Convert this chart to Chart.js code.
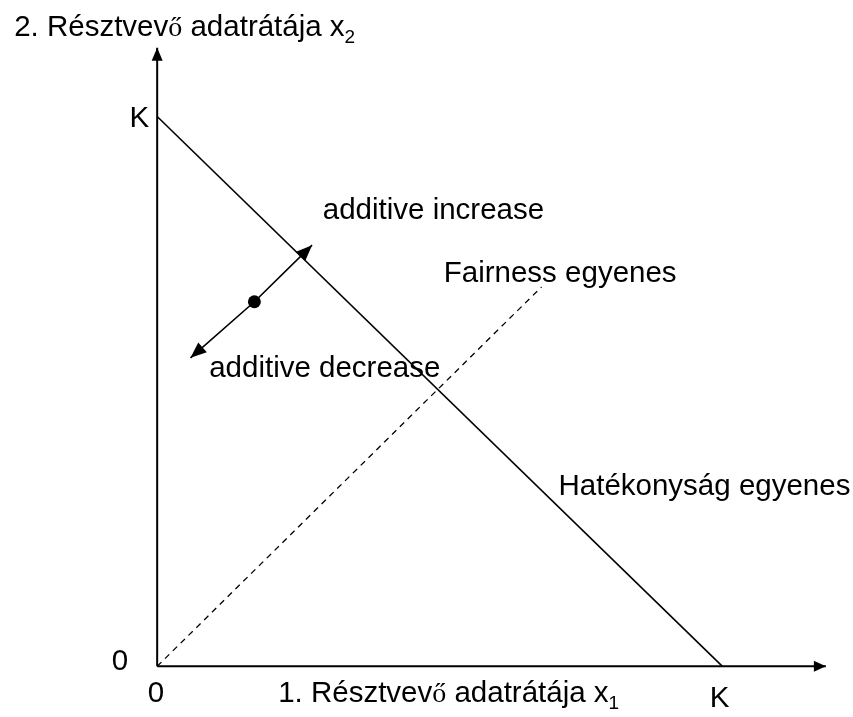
<!DOCTYPE html>
<html>
<head>
<meta charset="utf-8">
<script src="https://cdn.jsdelivr.net/npm/chart.js@4"></script>
<style>
html,body{margin:0;padding:0;background:#fff;}
canvas{display:block;}
</style>
</head>
<body>
<canvas id="c" width="853" height="717"></canvas>
<script>
// ---- data (K = 10 units) ----
const K = 10;
const xAxisLine = [{x:0,y:0},{x:11.83,y:0}];
const yAxisLine = [{x:0,y:0},{x:0,y:11.25}];
const efficiencyLine = [{x:0,y:K},{x:K,y:0}];
const fairnessLine = [{x:0,y:0},{x:6.8,y:6.9}];
const adjustPath = [{x:0.59,y:5.61},{x:1.72,y:6.63},{x:2.74,y:7.66}];
const currentPoint = [{x:1.72,y:6.63}];

// text labels (segments: [text, style]) ; style: n normal, s serif glyph, b subscript
const labelTexts = [
  [["2. Résztvev","n"],["ő","s"],[" adatrátája x","n"],["2","b"]],
  [["K","n"]],
  [["0","n"]],
  [["0","n"]],
  [["K","n"]],
  [["1. Résztvev","n"],["ő","s"],[" adatrátája x","n"],["1","b"]],
  [["additive increase","n"]],
  [["Fairness egyenes","n"]],
  [["additive decrease","n"]],
  [["Hatékonyság egyenes","n"]]
];
const labelAnchors = [
  {x:-2.53,y:11.66,align:"left"},
  {x:-0.14,y:10.0,align:"right"},
  {x:-0.66,y:0.12,align:"center"},
  {x:-0.02,y:-0.46,align:"center"},
  {x:9.95,y:-0.55,align:"center"},
  {x:2.14,y:-0.46,align:"left"},
  {x:2.93,y:8.33,align:"left"},
  {x:5.07,y:7.18,align:"left"},
  {x:0.92,y:5.45,align:"left"},
  {x:7.1,y:3.3,align:"left"}
];

const FS = 29.5;
const SANS = '"Liberation Sans", Arial, sans-serif';
const SERIF = '"Liberation Serif", "Times New Roman", serif';
function fontFor(st){
  if(st==="s") return `${Math.round(FS*0.95)}px ${SERIF}`;
  if(st==="b") return `${Math.round(FS*0.66)}px ${SANS}`;
  return `${FS}px ${SANS}`;
}

const arrowPlugin = {
  id:'arrows',
  afterDatasetsDraw(chart){
    const ctx = chart.ctx;
    chart.data.datasets.forEach((ds,i)=>{
      if(!ds.arrows) return;
      const meta = chart.getDatasetMeta(i);
      const pts = meta.data;
      const n = pts.length;
      const heads = [];
      if(ds.arrows.end) heads.push([pts[n-2],pts[n-1]]);
      if(ds.arrows.start) heads.push([pts[1],pts[0]]);
      heads.forEach(([a,b])=>{
        const ang = Math.atan2(b.y-a.y,b.x-a.x);
        const L = ds.arrows.len, W = ds.arrows.half;
        ctx.save();
        ctx.translate(b.x,b.y);
        ctx.rotate(ang);
        ctx.beginPath();
        ctx.moveTo(0,0);
        ctx.lineTo(-L,-W);
        ctx.lineTo(-L,W);
        ctx.closePath();
        ctx.fillStyle='#000';
        ctx.fill();
        ctx.restore();
      });
    });
  }
};

const textPlugin = {
  id:'texts',
  afterDraw(chart){
    const ctx = chart.ctx;
    const xs = chart.scales.x, ys = chart.scales.y;
    labelTexts.forEach((segs,i)=>{
      const a = labelAnchors[i];
      const px = xs.getPixelForValue(a.x), py = ys.getPixelForValue(a.y);
      ctx.save();
      ctx.fillStyle='#000';
      ctx.textBaseline='alphabetic';
      let total=0;
      segs.forEach(([t,st])=>{ctx.font=fontFor(st); total+=ctx.measureText(t).width;});
      let x = a.align==="left"?px:(a.align==="right"?px-total:px-total/2);
      const base = py + FS*0.36;
      segs.forEach(([t,st])=>{
        ctx.font=fontFor(st);
        const y = st==="b"? base+FS*0.24 : base;
        ctx.fillText(t,x,y);
        x += ctx.measureText(t).width;
      });
      ctx.restore();
    });
  }
};

const xMinPx=153, xKPx=727, y0Px=672, yKPx=112;
const ux=(xKPx-xMinPx)/K, uy=(y0Px-yKPx)/K;
const xMin=-xMinPx/ux, xMax=xMin+853/ux;
const yMax=y0Px/uy, yMin=yMax-717/uy;

new Chart(document.getElementById('c'),{
  type:'scatter',
  data:{datasets:[
    {data:xAxisLine,showLine:true,borderColor:'#000',borderWidth:2,pointRadius:0,arrows:{end:true,len:12,half:5.5}},
    {data:yAxisLine,showLine:true,borderColor:'#000',borderWidth:2,pointRadius:0,arrows:{end:true,len:13,half:5.5}},
    {data:efficiencyLine,showLine:true,borderColor:'#000',borderWidth:1.6,pointRadius:0},
    {data:fairnessLine,showLine:true,borderColor:'#000',borderWidth:1.3,borderDash:[6,5],pointRadius:0},
    {data:adjustPath,showLine:true,borderColor:'#000',borderWidth:1.6,pointRadius:0,arrows:{start:true,end:true,len:16,half:6.5}},
    {data:currentPoint,showLine:false,pointRadius:6.5,pointBackgroundColor:'#000',pointBorderColor:'#000',pointBorderWidth:0}
  ]},
  options:{
    responsive:false,animation:false,
    layout:{padding:0},
    plugins:{legend:{display:false},tooltip:{enabled:false}},
    scales:{
      x:{type:'linear',min:xMin,max:xMax,display:false},
      y:{type:'linear',min:yMin,max:yMax,display:false}
    },
    elements:{line:{tension:0,borderCapStyle:'butt'}}
  },
  plugins:[arrowPlugin,textPlugin]
});
</script>
</body>
</html>
